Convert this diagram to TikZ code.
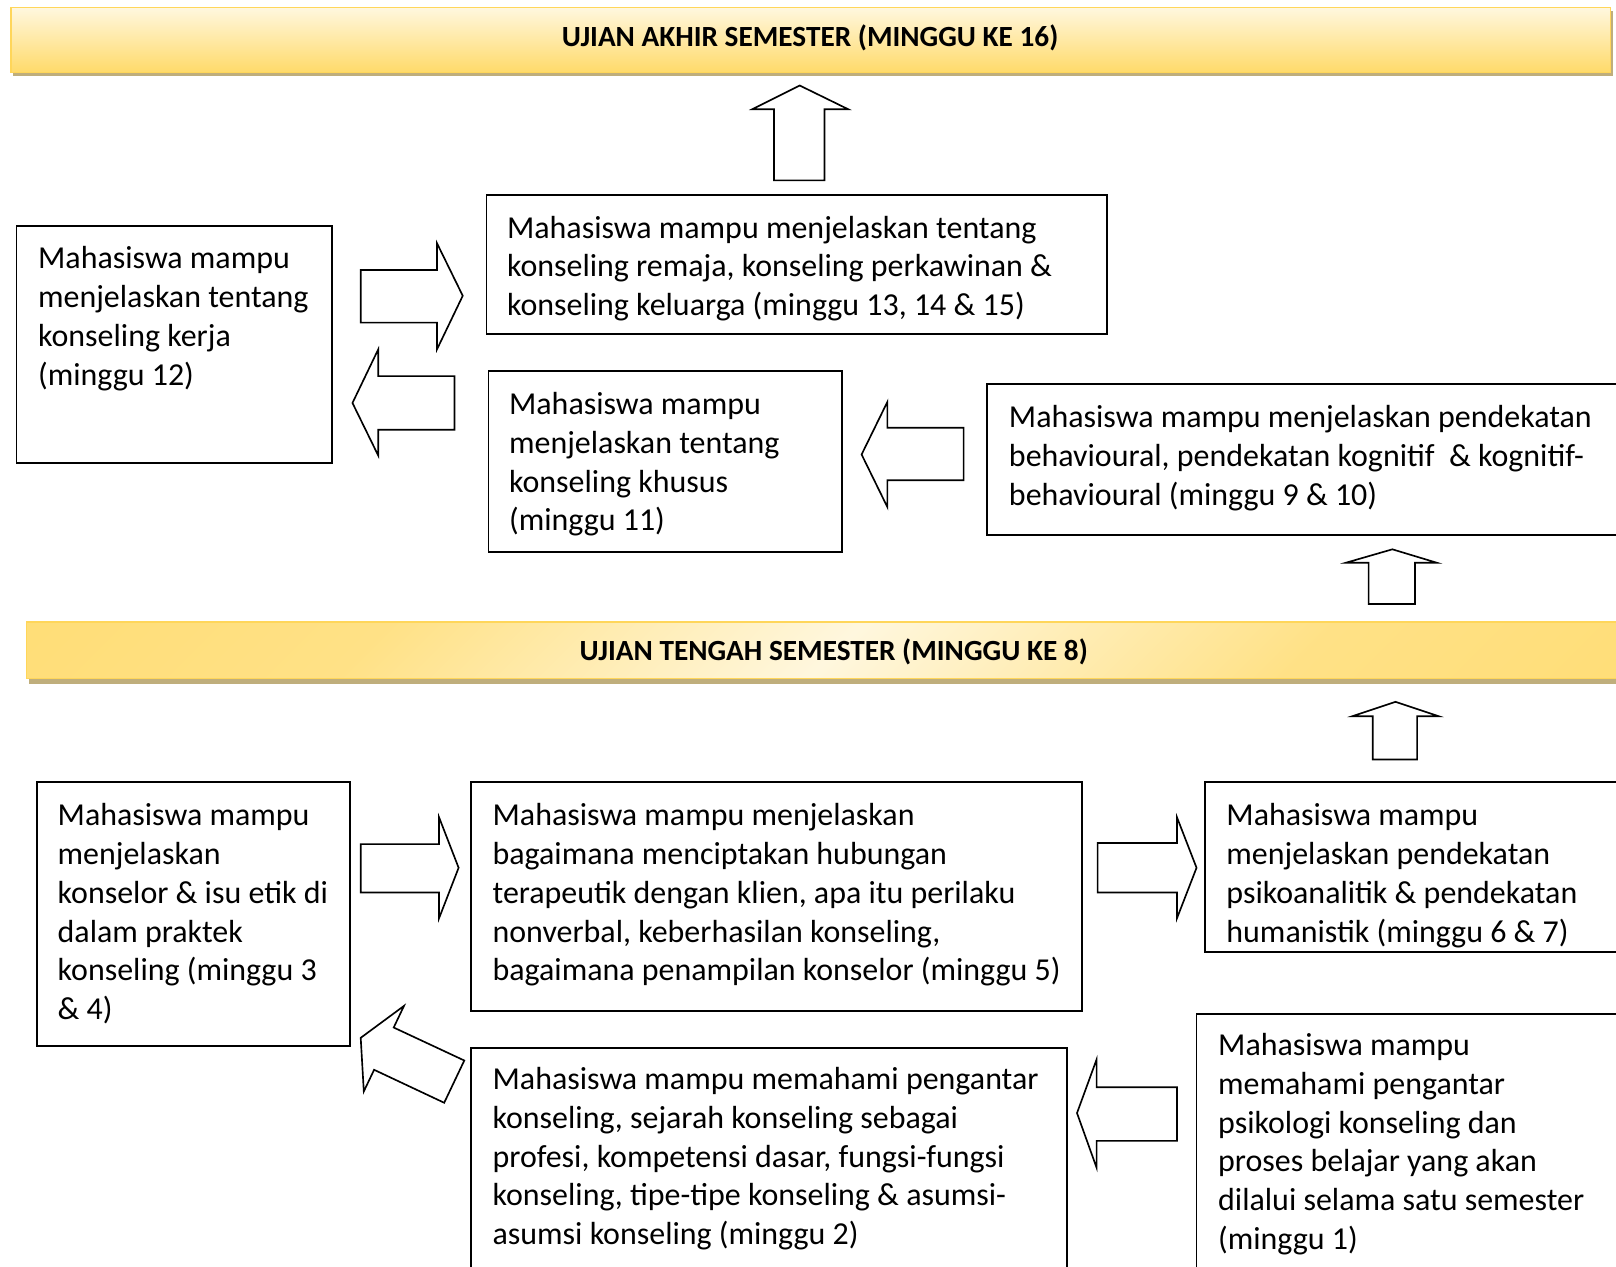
\documentclass[tikz,border=0pt]{standalone}
\usepackage{fontspec}
\setmainfont{Carlito}
\definecolor{shadowc}{RGB}{191,174,124}
\definecolor{banborder}{RGB}{255,214,90}
\definecolor{banlight}{RGB}{255,247,222}
\definecolor{banyellow}{RGB}{255,218,105}
\pgfdeclareverticalshading{bannermid}{100bp}{color(0bp)=(banyellow); color(30bp)=(banyellow!75!banlight); color(50bp)=(banlight); color(70bp)=(banyellow!75!banlight); color(100bp)=(banyellow)}
\newcommand\bodyfont{\fontsize{15.5pt}{18.85pt}\selectfont}
\newcommand\titlefont{\fontsize{14.2pt}{17pt}\selectfont\bfseries}
\newcommand\txt[1]{\parbox[t]{330pt}{\bodyfont\raggedright #1}}
\newcommand\drawbox[5]{\node[tbox, minimum width={(#4-#2)*0.5pt}, minimum height={(#5-#3)*0.5pt}] (#1) at (#2,#3) {};}
\tikzset{
  tbox/.style={draw=black, line width=0.9pt, inner sep=0pt, outer sep=0pt, anchor=north west, fill=white},
  ttext/.style={anchor=base west, inner sep=0pt, outer sep=0pt},
  barrow/.style={draw=black, line width=0.8pt, fill=white, line join=miter},
  banner/.style={draw=banborder, line width=0.6pt, inner sep=0pt, anchor=north west},
  btitle/.style={font=\titlefont, inner sep=0pt, anchor=base},
}
\begin{document}
\begin{tikzpicture}[x=0.5pt,y=-0.5pt]
\useasboundingbox[fill=white] (0,0) rectangle (1568,1229);

% ---- top banner
\fill[shadowc] (13,11) rectangle (1565,74);
\node[banner, top color=banlight, bottom color=banyellow, minimum width={(1562-10)*0.5pt}, minimum height={(70-7)*0.5pt}] (uas) at (10,7) {};
\node[btitle] (uast) at (786,45) {UJIAN AKHIR SEMESTER (MINGGU KE 16)};

% ---- middle banner
\fill[shadowc] (28,607) rectangle (1600,664);
\node[banner, shading=bannermid, shading angle=45, minimum width={(1596-25)*0.5pt}, minimum height={(658-603)*0.5pt}] (uts) at (25,603) {};
\node[btitle] (utst) at (809,641) {UJIAN TENGAH SEMESTER (MINGGU KE 8)};

% ---- boxes
\drawbox{a}{472}{189}{1074}{324}
\node[ttext] (at) at ([shift={(20,42)}]a.north west) {\txt{Mahasiswa mampu menjelaskan tentang\\konseling remaja, konseling perkawinan \&\\konseling keluarga (minggu 13, 14 \& 15)}};

\drawbox{b}{16}{219}{322}{449}
\node[ttext] (bt) at ([shift={(21,42)}]b.north west) {\txt{Mahasiswa mampu\\menjelaskan tentang\\konseling kerja\\(minggu 12)}};

\drawbox{c}{474}{360}{817}{536}
\node[ttext] (ct) at ([shift={(20,42)}]c.north west) {\txt{Mahasiswa mampu\\menjelaskan tentang\\konseling khusus\\(minggu 11)}};

\drawbox{d}{958}{373}{1590}{519}
\node[ttext] (dt) at ([shift={(21,42)}]d.north west) {\txt{Mahasiswa mampu menjelaskan pendekatan\\behavioural, pendekatan kognitif~ \& kognitif-\\behavioural (minggu 9 \& 10)}};

\drawbox{e}{36}{759}{340}{1015}
\node[ttext] (et) at ([shift={(20,42)}]e.north west) {\txt{Mahasiswa mampu\\menjelaskan\\konselor \& isu etik di\\dalam praktek\\konseling (minggu 3\\\& 4)}};

\drawbox{f}{457}{759}{1050}{981}
\node[ttext] (ft) at ([shift={(21,42)}]f.north west) {\txt{Mahasiswa mampu menjelaskan\\bagaimana menciptakan hubungan\\terapeutik dengan klien, apa itu perilaku\\nonverbal, keberhasilan konseling,\\bagaimana penampilan konselor (minggu 5)}};

\drawbox{g}{1169}{759}{1590}{924}
\begin{scope}
\clip (g.north west) rectangle (g.south east);
\node[ttext] (gt) at ([shift={(21,42)}]g.north west) {\txt{Mahasiswa mampu\\menjelaskan pendekatan\\psikoanalitik \& pendekatan\\humanistik (minggu 6 \& 7)}};
\end{scope}

\drawbox{h}{457}{1017}{1035}{1300}
\node[ttext] (ht) at ([shift={(21,40)}]h.north west) {\txt{Mahasiswa mampu memahami pengantar\\konseling, sejarah konseling sebagai\\profesi, kompetensi dasar, fungsi-fungsi\\konseling, tipe-tipe konseling \& asumsi-\\asumsi konseling (minggu 2)}};

\drawbox{i}{1161}{984}{1590}{1300}
\node[ttext] (it) at ([shift={(21,40)}]i.north west) {\txt{Mahasiswa mampu\\memahami pengantar\\psikologi konseling dan\\proses belajar yang akan\\dilalui selama satu semester\\(minggu 1)}};

% ---- block arrows
% up arrow to UAS
\draw[barrow] (751,175) -- (751,106) -- (730,106) -- (776,83) -- (823,106) -- (800,106) -- (800,175) -- cycle;
% b -> a
\draw[barrow] (350,262) -- (424,262) -- (424,236) -- (449,287) -- (424,339) -- (424,313) -- (350,313) -- cycle;
% c -> b
\draw[barrow] (441,365) -- (367,365) -- (367,339) -- (342,391) -- (367,442) -- (367,417) -- (441,417) -- cycle;
% d -> c
\draw[barrow] (935,415) -- (861,415) -- (861,390) -- (836,441) -- (861,492) -- (861,466) -- (935,466) -- cycle;
% UTS -> d
\draw[barrow] (1328,586) -- (1328,546) -- (1306,546) -- (1351,533) -- (1394,546) -- (1373,546) -- (1373,586) -- cycle;
% g -> UTS
\draw[barrow] (1332,737) -- (1332,695) -- (1312,695) -- (1354,681) -- (1396,695) -- (1375,695) -- (1375,737) -- cycle;
% e -> f
\draw[barrow] (350,819) -- (426,819) -- (426,793) -- (445,842) -- (426,891) -- (426,866) -- (350,866) -- cycle;
% f -> g
\draw[barrow] (1065,818) -- (1142,818) -- (1142,793) -- (1161,842) -- (1142,891) -- (1142,866) -- (1065,866) -- cycle;
% i -> h
\draw[barrow] (1142,1055) -- (1064,1055) -- (1064,1028) -- (1045,1080) -- (1064,1133) -- (1064,1107) -- (1142,1107) -- cycle;
% h -> e (diagonal)
\draw[barrow] (350,1007) -- (392,976) -- (382,997) -- (450.5,1029) -- (431,1070) -- (363,1038) -- (353,1059) -- cycle;
\end{tikzpicture}
\end{document}
